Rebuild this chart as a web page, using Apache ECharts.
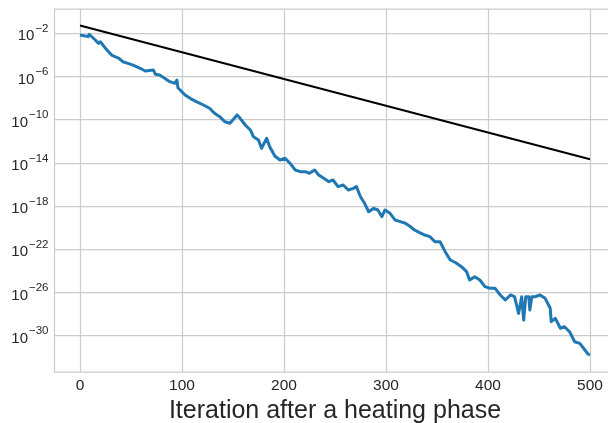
<!DOCTYPE html>
<html>
<head>
<meta charset="utf-8">
<script src="https://cdn.jsdelivr.net/npm/echarts@6/dist/echarts.min.js"></script>
<style>html,body{margin:0;padding:0;background:#fff;}#chart{width:608px;height:423px;}</style>
</head>
<body>
<div id="chart"></div>
<script>
// Blue series: iteration and log10 of the value
const iterations = [0,8,9,15,18,20,25,28,31,38,42,47,52,59,64,72,74,78,83,88,93,95,96,103,108,114,121,127,132,137,142,147,154,157,162,167,170,175,178,183,186,191,196,201,206,211,216,221,225,230,234,239,244,248,253,258,263,268,271,275,279,283,288,292,296,299,304,309,314,319,324,328,333,338,343,348,353,358,363,368,374,379,382,387,392,397,402,407,412,417,422,426,430,433,435,437,440,441,443,446,451,456,461,462,466,471,475,480,485,490,495,498,500];
const logValues = [-2.16,-2.31,-2.09,-2.62,-2.93,-2.78,-3.39,-3.70,-4.01,-4.31,-4.63,-4.78,-4.94,-5.24,-5.49,-5.40,-5.80,-5.86,-6.17,-6.48,-6.63,-6.32,-7.04,-7.71,-8.02,-8.33,-8.64,-8.94,-9.41,-9.72,-10.19,-10.33,-9.56,-9.87,-10.49,-10.95,-11.57,-11.88,-12.65,-11.72,-12.50,-13.36,-13.73,-13.57,-14.04,-14.66,-14.81,-14.81,-14.96,-14.66,-15.12,-15.43,-15.74,-15.58,-16.20,-16.05,-16.51,-16.36,-16.20,-17.13,-17.74,-18.52,-18.20,-18.36,-18.98,-18.36,-18.67,-19.29,-19.44,-19.59,-19.91,-20.21,-20.46,-20.68,-20.83,-21.30,-21.30,-22.22,-22.99,-23.22,-23.61,-24.07,-24.84,-24.54,-24.84,-25.46,-25.61,-25.61,-26.23,-26.69,-26.23,-26.39,-27.93,-26.39,-28.55,-26.40,-26.39,-27.62,-26.40,-26.39,-26.23,-26.54,-27.46,-28.70,-28.39,-29.31,-29.17,-29.63,-30.56,-30.71,-31.32,-31.69,-31.79];
// Black reference line (straight on the log axis)
const refIterations = [0, 500];
const refLogValues = [-1.28, -13.67];
// Tick values
const xTickValues = [0, 100, 200, 300, 400, 500];
const yTickExponents = [-2, -6, -10, -14, -18, -22, -26, -30];
const xAxisTitle = 'Iteration after a heating phase';

const blueData = iterations.map((it, i) => [it, Math.pow(10, logValues[i])]);
const refData = refIterations.map((it, i) => [it, Math.pow(10, refLogValues[i])]);
const yTickValues = yTickExponents.map(e => Math.pow(10, e));

const FONT = "'Liberation Sans', Arial, sans-serif";
const chart = echarts.init(document.getElementById('chart'), null, {renderer: 'canvas'});
chart.setOption({
  backgroundColor: '#ffffff',
  animation: false,
  grid: {
    left: 54.5, top: 9, right: -7.5, bottom: 51,
    show: true, borderColor: '#cccccc', borderWidth: 1.25,
    backgroundColor: 'transparent',
    containLabel: false, outerBoundsMode: 'none'
  },
  xAxis: {
    type: 'value', min: -25, max: 525,
    name: xAxisTitle, nameLocation: 'middle', nameGap: 22,
    nameTextStyle: {fontFamily: FONT, fontSize: 25, color: '#262626'},
    axisLine: {show: false},
    axisTick: {show: false, customValues: xTickValues},
    axisLabel: {customValues: xTickValues, fontFamily: FONT, fontSize: 15.5, color: '#262626', margin: 6},
    splitLine: {show: true, lineStyle: {color: '#cccccc', width: 1.25}}
  },
  yAxis: {
    type: 'log', logBase: 10,
    min: Math.pow(10, -33.36), max: Math.pow(10, 0.25),
    axisLine: {show: false},
    axisTick: {show: false, customValues: yTickValues},
    axisLabel: {
      customValues: yTickValues,
      margin: 6,
      formatter: function (v) {
        const e = Math.round(Math.log10(v));
        return '{b|10}{s|\u2212' + Math.abs(e) + '}';
      },
      rich: {
        b: {fontFamily: FONT, fontSize: 15, color: '#262626', verticalAlign: 'bottom', lineHeight: 15},
        s: {fontFamily: FONT, fontSize: 11.5, color: '#262626', verticalAlign: 'top', lineHeight: 21, padding: [0, 0, 1, 1]}
      }
    },
    splitLine: {show: true, lineStyle: {color: '#cccccc', width: 1.25}}
  },
  series: [
    {
      type: 'line', data: refData, showSymbol: false, symbol: 'none',
      lineStyle: {color: '#000000', width: 2}, z: 3
    },
    {
      type: 'line', data: blueData, showSymbol: false, symbol: 'none',
      lineStyle: {color: '#1f77b4', width: 3, join: 'round'}, z: 2
    }
  ]
});
</script>
</body>
</html>
